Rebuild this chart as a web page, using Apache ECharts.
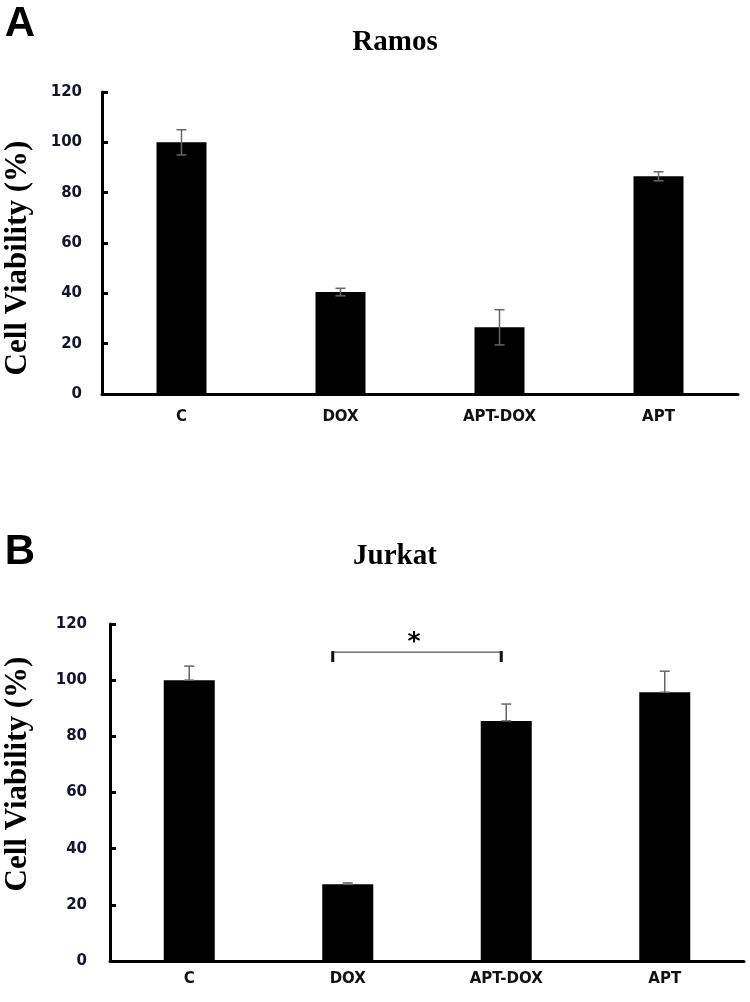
<!DOCTYPE html>
<html>
<head>
<meta charset="utf-8">
<script src="https://cdn.jsdelivr.net/npm/echarts@6/dist/echarts.min.js"></script>
<style>html,body{margin:0;padding:0;background:#fff}#c{width:750px;height:1002px}</style>
</head>
<body>
<div id="c"></div>
<script>
// ---- data ----
var categories = ['C', 'DOX', 'APT-DOX', 'APT'];
var ramosMean = [100, 40.5, 26.5, 86.5];
var ramosErr = [5, 1.5, 7, 1.8];
var jurkatMean = [100, 27.3, 85.5, 95.7];
var jurkatErr = [5, 0.5, 6, 7.5];
var yTicks = [0, 20, 40, 60, 80, 100, 120];
var sigPair = [1, 2];      // DOX vs APT-DOX
var sigLevel = 110;
var sigLabel = '*';

var chart = echarts.init(document.getElementById('c'), null, {renderer: 'canvas'});

function errData(mean, err, both) {
  return mean.map(function (m, i) { return [i, both ? m - err[i] : m, m + err[i]]; });
}
function errRender(params, api) {
  var x = api.value(0);
  var lo = api.coord([x, api.value(1)]);
  var hi = api.coord([x, api.value(2)]);
  var hw = 5;
  var st = {stroke: '#666', lineWidth: 1.5};
  return {type: 'group', children: [
    {type: 'line', shape: {x1: hi[0], y1: hi[1], x2: lo[0], y2: lo[1]}, style: st},
    {type: 'line', shape: {x1: hi[0] - hw, y1: hi[1], x2: hi[0] + hw, y2: hi[1]}, style: st},
    {type: 'line', shape: {x1: lo[0] - hw, y1: lo[1], x2: lo[0] + hw, y2: lo[1]}, style: st}
  ]};
}
function sigRender(params, api) {
  var a = api.coord([api.value(0), api.value(2)]);
  var b = api.coord([api.value(1), api.value(2)]);
  var x1 = a[0] - 15, x2 = b[0] - 5, y = a[1];
  return {type: 'group', children: [
    {type: 'line', shape: {x1: x1, y1: y, x2: x2, y2: y}, style: {stroke: '#555', lineWidth: 1.2}},
    {type: 'rect', shape: {x: x1 - 1.5, y: y - 1, width: 3, height: 11}, style: {fill: '#111'}},
    {type: 'rect', shape: {x: x2 - 1.5, y: y - 1, width: 3, height: 11}, style: {fill: '#111'}},
    {type: 'text', x: (x1 + x2) / 2 - 3, y: y - 10, style: {text: sigLabel, fontSize: 25, fontWeight: 'bold', fontFamily: 'DejaVu Sans', fill: '#000', align: 'center', verticalAlign: 'middle'}}
  ]};
}

function yAxisCfg(idx, margin) {
  return {
    type: 'value', gridIndex: idx, min: yTicks[0], max: yTicks[yTicks.length - 1], interval: 20,
    axisLine: {show: true, lineStyle: {color: '#000', width: 3}},
    axisTick: {show: true, inside: true, length: 6, lineStyle: {color: '#000', width: 3}},
    splitLine: {show: false},
    axisLabel: {margin: margin, fontSize: 15, fontWeight: 'bold', fontFamily: 'DejaVu Sans', color: '#14142a'}
  };
}
function xAxisCfg(idx, margin) {
  return {
    type: 'category', gridIndex: idx, data: categories,
    axisLine: {show: true, lineStyle: {color: '#000', width: 3}},
    axisTick: {show: false},
    axisLabel: {margin: margin, fontSize: 15, fontWeight: 'bold', fontFamily: 'DejaVu Sans', color: '#111'}
  };
}
var txt = function (text, x, y, size, family, rot) {
  return {type: 'text', x: x, y: y, rotation: rot || 0,
    style: {text: text, fontSize: size, fontWeight: 'bold', fontFamily: family, fill: '#000', align: 'center', verticalAlign: 'middle'}};
};

chart.setOption({
  animation: false,
  backgroundColor: '#fff',
  grid: [
    {left: 102, top: 92, right: 12, height: 302, outerBoundsMode: 'none'},
    {left: 110, top: 624, right: 6, height: 337, outerBoundsMode: 'none'}
  ],
  xAxis: [xAxisCfg(0, 16), xAxisCfg(1, 11)],
  yAxis: [yAxisCfg(0, 20), yAxisCfg(1, 23)],
  series: [
    {type: 'bar', xAxisIndex: 0, yAxisIndex: 0, data: ramosMean, barWidth: 50, itemStyle: {color: '#000'}},
    {type: 'custom', xAxisIndex: 0, yAxisIndex: 0, data: errData(ramosMean, ramosErr, true), renderItem: errRender, z: 5},
    {type: 'bar', xAxisIndex: 1, yAxisIndex: 1, data: jurkatMean, barWidth: 51, itemStyle: {color: '#000'}},
    {type: 'custom', xAxisIndex: 1, yAxisIndex: 1, data: errData(jurkatMean, jurkatErr, false), renderItem: errRender, z: 5},
    {type: 'custom', xAxisIndex: 1, yAxisIndex: 1, data: [[sigPair[0], sigPair[1], sigLevel]], renderItem: sigRender, z: 5}
  ],
  graphic: [
    txt('A', 20, 24, 42, 'Liberation Sans'),
    txt('B', 20, 552, 42, 'Liberation Sans'),
    txt('Ramos', 395, 43, 29, 'Liberation Serif'),
    txt('Jurkat', 395, 557, 29, 'Liberation Serif'),
    txt('Cell Viability (%)', 18, 258, 31, 'Liberation Serif', Math.PI / 2),
    txt('Cell Viability (%)', 18, 774, 31, 'Liberation Serif', Math.PI / 2)
  ]
});
</script>
</body>
</html>
